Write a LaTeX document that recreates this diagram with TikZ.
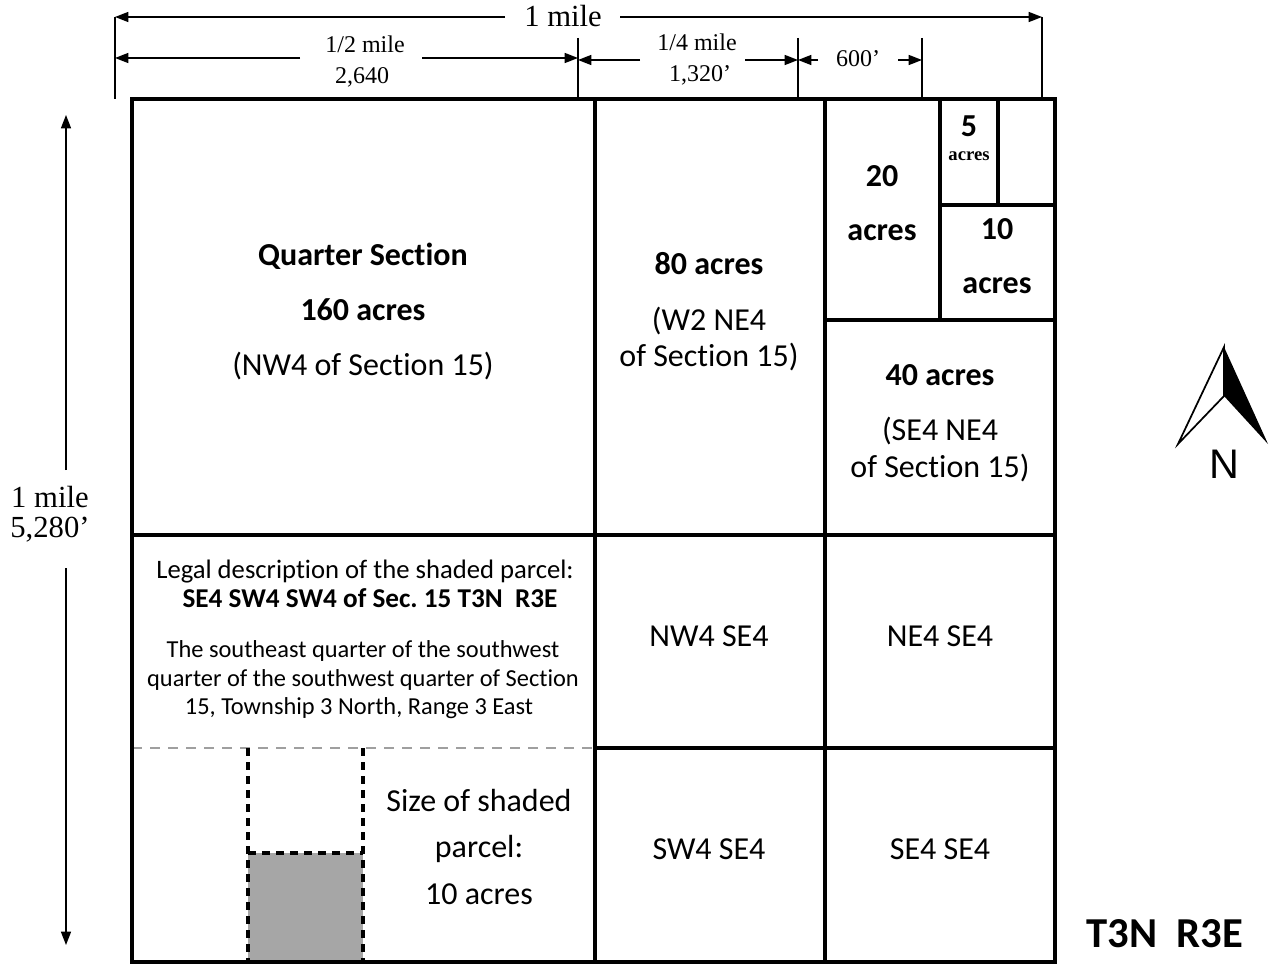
\documentclass[tikz,border=0pt]{standalone}
\usepackage{fontspec}
\setmainfont{Carlito}[Ligatures={TeX,NoCommon}]
\newfontfamily\tnr{Liberation Serif}
\newfontfamily\arialf{Liberation Sans}
\usetikzlibrary{arrows.meta}
\frenchspacing
\begin{document}
\begin{tikzpicture}[x=0.75pt,y=-0.75pt,
  gridline/.style={line width=2.3pt},
  dimarrow/.style={line width=1.1pt,-{Triangle[length=10pt,width=7.5pt]}},
  dimtick/.style={line width=1.1pt},
  lbl/.style={font=\fontsize{24}{28}\selectfont, anchor=base, inner sep=0pt},
  lblb/.style={font=\fontsize{24}{28}\selectfont\bfseries, anchor=base, inner sep=0pt},
  smalltxt/.style={font=\fontsize{20}{24}\selectfont, anchor=base, inner sep=0pt},
  smallertxt/.style={font=\fontsize{18.3}{22}\selectfont, anchor=base, inner sep=0pt},
  smallb/.style={font=\fontsize{20.4}{24}\selectfont\bfseries, anchor=base, inner sep=0pt},
  tms/.style={font=\tnr\fontsize{23}{26}\selectfont, anchor=base, inner sep=0pt},
  tmss/.style={font=\tnr\fontsize{18}{22}\selectfont, anchor=base, inner sep=0pt},
  parceldash/.style={line width=2.3pt, dash pattern=on 6pt off 4.5pt},
]
\useasboundingbox (0,0) rectangle (1269,966);

% ---------- parcel fill ----------
\fill[black!35] (248,853) rectangle (363,962);

% ---------- grid ----------
\draw[gray!75, line width=1pt, dash pattern=on 7.5pt off 6pt] (132,748) -- (595,748);
\draw[gridline] (132,99) rectangle (1055,962);
\draw[gridline] (595,99) -- (595,962);
\draw[gridline] (825,99) -- (825,962);
\draw[gridline] (132,535) -- (1055,535);
\draw[gridline] (595,748) -- (1055,748);
\draw[gridline] (825,320) -- (1055,320);
\draw[gridline] (940,99) -- (940,320);
\draw[gridline] (940,205) -- (1055,205);
\draw[gridline] (998,99) -- (998,205);

% ---------- parcel dashes ----------
\draw[parceldash] (248,748) -- (248,962);
\draw[parceldash] (363,748) -- (363,962);
\draw[parceldash] (248,853) -- (363,853);

% ---------- top dimensions ----------
\coordinate (k0t) at (115,17);  \coordinate (k0b) at (115,99);
\coordinate (k4t) at (1042,17); \coordinate (k4b) at (1042,99);
\coordinate (k1t) at (578,38);  \coordinate (k1b) at (578,99);
\coordinate (k2t) at (798,38);  \coordinate (k2b) at (798,99);
\coordinate (k3t) at (922,38);  \coordinate (k3b) at (922,99);
\draw[dimtick] (k0t) -- (k0b);
\draw[dimtick] (k4t) -- (k4b);
\draw[dimtick] (k1t) -- (k1b);
\draw[dimtick] (k2t) -- (k2b);
\draw[dimtick] (k3t) -- (k3b);

\node[tms] (onemile) at (563,27) {1 mile};
\coordinate (m1a) at (505,17); \coordinate (m1b) at (620,17);
\coordinate (m1L) at (115,17); \coordinate (m1R) at (1042,17);
\draw[dimarrow] (m1a) -- (m1L);
\draw[dimarrow] (m1b) -- (m1R);

\node[tmss] (halfa) at (365,53) {1/2 mile};
\node[tmss] (halfb) at (362,84) {2,640};
\coordinate (h1a) at (300,58); \coordinate (h1b) at (422,58);
\coordinate (h1L) at (115,58); \coordinate (h1R) at (578,58);
\draw[dimarrow] (h1a) -- (h1L);
\draw[dimarrow] (h1b) -- (h1R);

\node[tmss] (qtra) at (697,51) {1/4 mile};
\node[tmss] (qtrb) at (700,82) {1,320’};
\coordinate (q1a) at (640,60); \coordinate (q1b) at (745,60);
\coordinate (q1L) at (578,60); \coordinate (q1R) at (798,60);
\draw[dimarrow] (q1a) -- (q1L);
\draw[dimarrow] (q1b) -- (q1R);

\node[tmss] (six) at (858,67) {600’};
\coordinate (s1a) at (818,60); \coordinate (s1b) at (898,60);
\coordinate (s1L) at (798,60); \coordinate (s1R) at (922,60);
\draw[dimarrow] (s1a) -- (s1L);
\draw[dimarrow] (s1b) -- (s1R);

% ---------- left dimension ----------
\node[tms] (lmile) at (50,507) {1 mile};
\node[tms] (lft) at (50,537) {5,280’};
\coordinate (v1a) at (66,470); \coordinate (v1b) at (66,568);
\coordinate (v1T) at (66,115); \coordinate (v1B) at (66,945);
\draw[dimarrow] (v1a) -- (v1T);
\draw[dimarrow] (v1b) -- (v1B);

% ---------- cell texts ----------
\node[lblb] (qs1) at (363,265) {Quarter Section};
\node[lblb] (qs2) at (363,320) {160 acres};
\node[lbl]  (qs3) at (363,375) {(NW4 of Section 15)};

\node[lblb] (e1) at (709,274) {80 acres};
\node[lbl]  (e2) at (709,330) {(W2 NE4};
\node[lbl]  (e3) at (709,366) {of Section 15)};

\node[lblb] (tw1) at (882,187) {20};
\node[lblb] (tw2) at (882,240) {acres};

\node[lblb] (fv1) at (969,137) {5};
\node[font=\tnr\bfseries\fontsize{14}{16}\selectfont, anchor=base, inner sep=0pt] (fv2) at (969,161) {acres};

\node[lblb] (tn1) at (997,239) {10};
\node[lblb] (tn2) at (997,293) {acres};

\node[lblb] (fo1) at (940,385) {40 acres};
\node[lbl]  (fo2) at (940,440) {(SE4 NE4};
\node[lbl]  (fo3) at (940,477) {of Section 15)};

\node[lbl] (nwse) at (709,646) {NW4 SE4};
\node[lbl] (nese) at (940,646) {NE4 SE4};
\node[lbl] (swse) at (709,859) {SW4 SE4};
\node[lbl] (sese) at (940,859) {SE4 SE4};

\node[smalltxt]   (lg1) at (365,578) {Legal description of the shaded parcel:};
\node[smallb]     (lg2) at (370,607) {SE4 SW4 SW4 of Sec. 15 T3N\ \ R3E};
\node[smallertxt] (lg3) at (363,657) {The southeast quarter of the southwest};
\node[smallertxt] (lg4) at (363,686) {quarter of the southwest quarter of Section};
\node[smallertxt] (lg5) at (359,714) {15, Township 3 North, Range 3 East};

\node[lbl] (sz1) at (479,811) {Size of shaded};
\node[lbl] (sz2) at (479,857) {parcel:};
\node[lbl] (sz3) at (479,904) {10 acres};

\node[font=\fontsize{32}{36}\selectfont\bfseries, anchor=base, inner sep=0pt] (twp) at (1165,947) {T3N\ \ R3E};

% ---------- north arrow ----------
\draw[line width=1.3pt, line join=miter] (1224,347) -- (1178,444) -- (1224,396) -- cycle;
\fill (1224,347) -- (1224,396) -- (1268,444) -- cycle;
\node[font=\arialf\fontsize{31}{31}\selectfont, anchor=base, inner sep=0pt] (north) at (1224,478) {N};
\end{tikzpicture}
\end{document}
